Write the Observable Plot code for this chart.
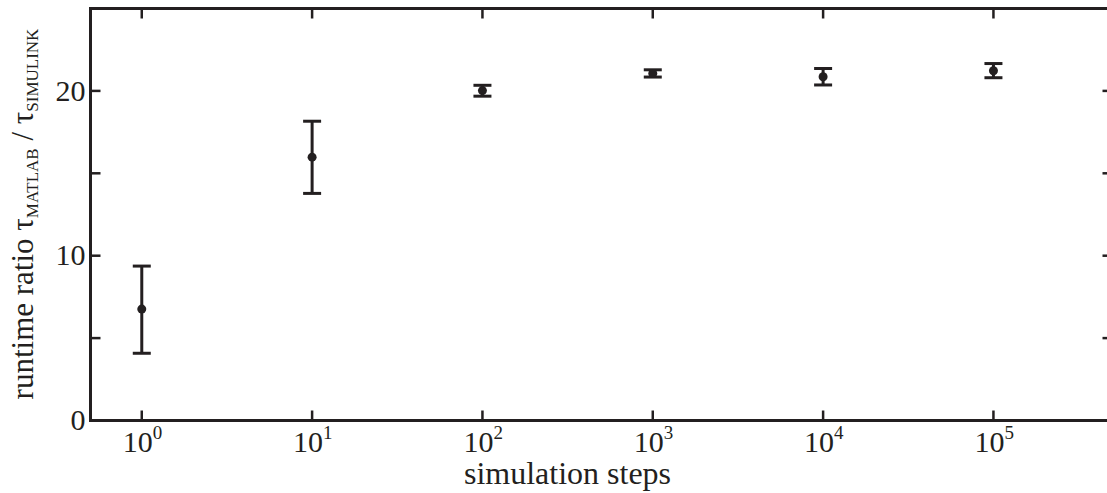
<!DOCTYPE html>
<html>
<head>
<meta charset="utf-8">
<script src="https://cdn.jsdelivr.net/npm/d3@7"></script>
<script src="https://cdn.jsdelivr.net/npm/@observablehq/plot@0.6"></script>
<style>
  html, body { margin: 0; padding: 0; overflow: hidden; background: #fff; }
  #chart svg { display: block; max-width: none !important; }
</style>
</head>
<body>
<div id="chart"></div>
<script>
// Measured runtime ratio (MATLAB vs SIMULINK) per number of simulation steps
const steps = [1, 10, 100, 1000, 10000, 100000];
const ratioMean = [6.76, 15.98, 20.02, 21.06, 20.86, 21.22];
const ratioLow  = [4.08, 13.78, 19.68, 20.84, 20.36, 20.80];
const ratioHigh = [9.37, 18.16, 20.34, 21.28, 21.36, 21.66];

// Axis ticks
const xTickValues = [1, 10, 100, 1000, 10000, 100000];
const xTickExponents = ["0", "1", "2", "3", "4", "5"];
const yTickLabels = [0, 10, 20];
const yTickMarks = [5, 10, 15, 20];

const ink = "#231f20";
const serif = "Liberation Serif, Times New Roman, serif";

const rows = steps.map((s, i) => ({s, mean: ratioMean[i], lo: ratioLow[i], hi: ratioHigh[i]}));

// Short line segments used as symbols: error-bar caps and inward ticks
const capSymbol = {draw(ctx) { ctx.moveTo(-9, 0); ctx.lineTo(9, 0); }};
const tickFromLeft = {draw(ctx) { ctx.moveTo(0, 0); ctx.lineTo(10, 0); }};
const tickFromRight = {draw(ctx) { ctx.moveTo(0, 0); ctx.lineTo(-10, 0); }};
const tickFromBottom = {draw(ctx) { ctx.moveTo(0, 0); ctx.lineTo(0, -10); }};
const tickFromTop = {draw(ctx) { ctx.moveTo(0, 0); ctx.lineTo(0, 10); }};

const tickStyle = {fill: "none", stroke: ink, strokeWidth: 2.5};

const plot = Plot.plot({
  width: 1120,
  height: 493,
  marginLeft: 90,
  marginRight: 8,
  marginTop: 8,
  marginBottom: 73,
  style: {fontFamily: serif, color: ink, background: "#fff"},
  x: {type: "log", domain: [0.5, 5e5], axis: null},
  y: {domain: [0, 25], axis: null},
  marks: [
    // inward ticks on all four sides
    Plot.dot(yTickMarks, {y: d => d, frameAnchor: "left", symbol: tickFromLeft, ...tickStyle}),
    Plot.dot(yTickMarks, {y: d => d, frameAnchor: "right", symbol: tickFromRight, ...tickStyle}),
    Plot.dot(xTickValues, {x: d => d, frameAnchor: "bottom", symbol: tickFromBottom, ...tickStyle}),
    Plot.dot(xTickValues, {x: d => d, frameAnchor: "top", symbol: tickFromTop, ...tickStyle}),
    // tick labels
    Plot.text(yTickLabels, {y: d => d, text: d => String(d), frameAnchor: "left", textAnchor: "end",
      dx: -5, fontSize: 30, fill: ink}),
    Plot.text(xTickValues, {x: d => d, text: () => "10", frameAnchor: "bottom", textAnchor: "end",
      lineAnchor: "bottom", dx: 11, dy: 31, fontSize: 30, fill: ink}),
    Plot.text(xTickValues, {x: d => d, text: (d, i) => xTickExponents[i], frameAnchor: "bottom", textAnchor: "start",
      lineAnchor: "bottom", dx: 11, dy: 18, fontSize: 19, fill: ink}),
    // x axis title
    Plot.text(["simulation steps"], {frameAnchor: "bottom", lineAnchor: "bottom", dx: -34, dy: 63, fontSize: 32, fill: ink}),
    // error bars
    Plot.ruleX(rows, {x: "s", y1: "lo", y2: "hi", stroke: ink, strokeWidth: 3}),
    Plot.dot(rows, {x: "s", y: "lo", symbol: capSymbol, fill: "none", stroke: ink, strokeWidth: 3}),
    Plot.dot(rows, {x: "s", y: "hi", symbol: capSymbol, fill: "none", stroke: ink, strokeWidth: 3}),
    Plot.dot(rows, {x: "s", y: "mean", r: 4.5, fill: ink, stroke: "none"}),
    Plot.frame({stroke: ink, strokeWidth: 3})
  ]
});

document.getElementById("chart").appendChild(plot);

// y axis title with subscripts
const yScale = plot.scale("y");
const yMid = (yScale.range[0] + yScale.range[1]) / 2;
const label = d3.select(plot).append("text")
  .attr("transform", `translate(33,${yMid}) rotate(-90)`)
  .attr("text-anchor", "middle")
  .attr("fill", ink)
  .style("font-family", serif)
  .style("font-size", "31px");
label.append("tspan").text("runtime ratio τ");
label.append("tspan").attr("dy", 5).style("font-size", "17px").text("MATLAB");
label.append("tspan").attr("dy", -5).text(" / τ");
label.append("tspan").attr("dy", 5).style("font-size", "17px").text("SIMULINK");
</script>
</body>
</html>
